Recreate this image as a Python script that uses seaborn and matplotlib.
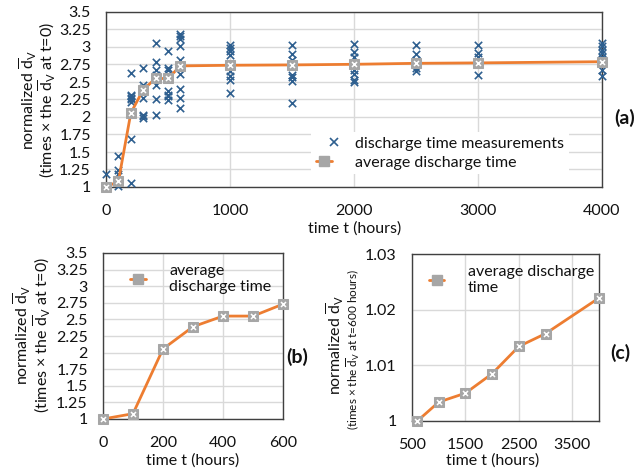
import matplotlib
matplotlib.use("Agg")
from matplotlib import pyplot as plt
from matplotlib.lines import Line2D
from matplotlib.legend_handler import HandlerTuple
from matplotlib.ticker import FuncFormatter
import seaborn as sns
import pandas as pd

# data
meas_times = [0, 100, 200, 300, 400, 500, 600, 1000, 1500, 2000, 2500, 3000, 4000]
meas_values = [
    [1.19, 1.0, 1.0],
    [1.44, 1.24, 1.19, 1.07, 1.01],
    [2.63, 2.32, 2.30, 2.27, 2.25, 2.22, 1.68, 1.06],
    [2.70, 2.46, 2.41, 2.27, 2.03, 2.01, 1.99],
    [3.06, 2.79, 2.67, 2.60, 2.46, 2.25, 2.03],
    [2.94, 2.70, 2.67, 2.37, 2.32, 2.30, 2.24],
    [3.19, 3.15, 3.12, 3.01, 2.82, 2.62, 2.40, 2.27, 2.13],
    [3.03, 2.99, 2.94, 2.89, 2.65, 2.59, 2.53, 2.34],
    [3.03, 2.90, 2.82, 2.60, 2.57, 2.52, 2.20],
    [3.04, 2.93, 2.86, 2.67, 2.62, 2.53, 2.50],
    [3.03, 2.90, 2.82, 2.70, 2.66],
    [3.03, 2.92, 2.85, 2.77, 2.60],
    [3.05, 3.01, 2.96, 2.91, 2.86, 2.67, 2.58],
]
avg_times = [0, 100, 200, 300, 400, 500, 600, 1000, 1500, 2000, 2500, 3000, 4000]
avg_values = [1.0, 1.08, 2.055, 2.39, 2.55, 2.55, 2.73, 2.739, 2.744, 2.753, 2.767, 2.773, 2.79]

early_times = [0, 100, 200, 300, 400, 500, 600]
early_values = [1.0, 1.08, 2.055, 2.39, 2.55, 2.55, 2.73]

late_times = [600, 1000, 1500, 2000, 2500, 3000, 4000]
late_values = [1.0, 1.0034, 1.005, 1.0085, 1.0134, 1.0157, 1.0221]

ORANGE = "#ed7d31"
BLUE = "#2e5f8f"
GRAY = "#a6a6a6"
GRID = "#d9d9d9"
SPINE = "#404040"
TXT = "#111111"

sns.set_style("white")
plt.rcParams["font.family"] = ["Lato", "DejaVu Sans"]
plt.rcParams["mathtext.fontset"] = "custom"
plt.rcParams["mathtext.rm"] = "Lato"
plt.rcParams["mathtext.it"] = "Lato:italic"
plt.rcParams["text.color"] = TXT

rows = []
for t, vals in zip(meas_times, meas_values):
    for v in vals:
        rows.append({"t": t, "v": v})
meas = pd.DataFrame(rows)

fig = plt.figure(figsize=(6.38, 4.74), dpi=100)
W, H = 638, 474


def box(l, t, r, b):
    return [l / W, 1 - b / H, (r - l) / W, (b - t) / H]


def style(ax, xlim, ylim, xticks, yticks):
    ax.set_xlim(*xlim)
    ax.set_ylim(*ylim)
    ax.set_xticks(xticks)
    ax.set_yticks(yticks)
    ax.grid(True, color=GRID, lw=1)
    ax.set_axisbelow(True)
    ax.yaxis.set_major_formatter(FuncFormatter(lambda v, p: "%g" % round(v, 4)))
    ax.tick_params(axis="both", direction="in", length=3, color=SPINE,
                   labelsize=11.5, labelcolor=TXT)
    ax.tick_params(axis="y", pad=11)
    ax.tick_params(axis="x", pad=12)
    for s in ax.spines.values():
        s.set_color(SPINE)
        s.set_linewidth(1)
    ax.set_xlabel("")
    ax.set_ylabel("")


def avg_line(ax, x, y):
    sns.lineplot(x=x, y=y, ax=ax, color=ORANGE, lw=2, marker="s", ms=6.5,
                 mfc=GRAY, mec=GRAY, clip_on=False, zorder=4)
    sns.scatterplot(x=x, y=y, ax=ax, marker="x", color="white", s=13,
                    linewidth=1.1, clip_on=False, zorder=5)


avg_handle = (Line2D([], [], color=ORANGE, lw=2, marker="s", ms=6.5, mfc=GRAY, mec=GRAY),
              Line2D([], [], ls="", marker="x", ms=3.6, mew=1.1, color="white"))

# (a)
ax1 = fig.add_axes(box(106, 12, 602, 187))
sns.scatterplot(data=meas, x="t", y="v", ax=ax1, marker="x", color=BLUE,
                s=28, linewidth=1.2, clip_on=False, zorder=3)
avg_line(ax1, avg_times, avg_values)
style(ax1, (0, 4000), (1, 3.5), [0, 1000, 2000, 3000, 4000],
      [1 + 0.25 * i for i in range(11)])
meas_handle = Line2D([], [], ls="", marker="x", ms=5.5, mew=1.2, color=BLUE)
leg = ax1.legend([meas_handle, avg_handle],
                 ["discharge time measurements", "average discharge time"],
                 handler_map={tuple: HandlerTuple(ndivide=None)},
                 loc="center", bbox_to_anchor=(440 / W, 1 - 153 / H),
                 bbox_transform=fig.transFigure, fontsize=11.5, frameon=True,
                 framealpha=1, edgecolor="none", fancybox=False,
                 handlelength=2.3, handletextpad=0.15, labelspacing=0.3,
                 borderpad=0.3)

# (b)
ax2 = fig.add_axes(box(103, 253, 283, 419))
avg_line(ax2, early_times, early_values)
style(ax2, (0, 600), (1, 3.5), [0, 200, 400, 600],
      [1 + 0.25 * i for i in range(11)])
ax2.legend([avg_handle], ["average\ndischarge time"],
           handler_map={tuple: HandlerTuple(ndivide=None)},
           loc="upper left", bbox_to_anchor=(0.08, 1.01), fontsize=11.5,
           frameon=False, handlelength=2.3, handletextpad=0.15, borderpad=0.3,
           alignment="left")

# (c)
ax3 = fig.add_axes(box(412, 254, 599, 421))
avg_line(ax3, late_times, late_values)
style(ax3, (500, 4000), (1, 1.03), [500, 1500, 2500, 3500],
      [1, 1.01, 1.02, 1.03])
ax3.legend([avg_handle], ["average discharge\ntime"],
           handler_map={tuple: HandlerTuple(ndivide=None)},
           loc="upper left", bbox_to_anchor=(0.02, 1.01), fontsize=11.5,
           frameon=False, handlelength=2.3, handletextpad=0.15, borderpad=0.3)

# axis titles
dbar = r"$\overline{\mathrm{d}}_\mathrm{V}$"
fig.text(28 / W, 1 - 100 / H, "normalized " + dbar, rotation=90, ha="center",
         va="center", fontsize=11.5)
fig.text(47 / W, 1 - 100 / H, "(times \u00d7 the " + dbar + " at t=0)", rotation=90,
         ha="center", va="center", fontsize=11.5)
fig.text(355 / W, 1 - 229 / H, "time t (hours)", ha="center", va="center", fontsize=11.5)

fig.text(22 / W, 1 - 335 / H, "normalized " + dbar, rotation=90, ha="center",
         va="center", fontsize=11.5)
fig.text(42 / W, 1 - 335 / H, "(times \u00d7 the " + dbar + " at t=0)", rotation=90,
         ha="center", va="center", fontsize=11.5)
fig.text(193 / W, 1 - 461 / H, "time t (hours)", ha="center", va="center", fontsize=11.5)

fig.text(335 / W, 1 - 345 / H, "normalized " + dbar, rotation=90, ha="center",
         va="center", fontsize=11.5)
fig.text(353 / W, 1 - 350 / H, "(times \u00d7 the " + dbar + " at t=600 hours)",
         rotation=90, ha="center", va="center", fontsize=8.5)
fig.text(493 / W, 1 - 461 / H, "time t (hours)", ha="center", va="center", fontsize=11.5)

# panel tags
fig.text(625 / W, 1 - 118 / H, "(a)", ha="center", va="center", fontsize=14, fontweight="bold")
fig.text(297 / W, 1 - 357 / H, "(b)", ha="center", va="center", fontsize=14, fontweight="bold")
fig.text(620 / W, 1 - 353 / H, "(c)", ha="center", va="center", fontsize=14, fontweight="bold")

fig.savefig("out.png", dpi=100)
